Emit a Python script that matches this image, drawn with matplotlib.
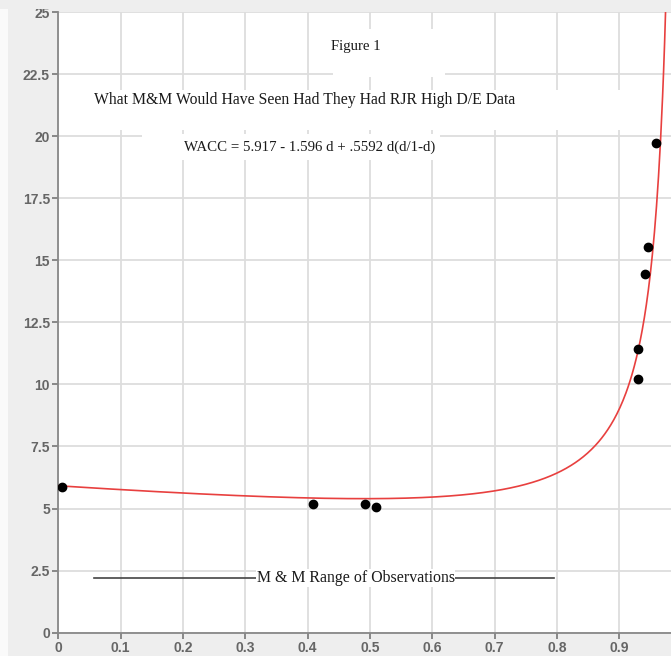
import numpy as np
import matplotlib
matplotlib.use("Agg")
import matplotlib.pyplot as plt
from matplotlib.patches import Rectangle

# observed debt ratio d and WACC (%)
d_obs = [0.006, 0.409, 0.492, 0.510, 0.930, 0.930, 0.942, 0.946, 0.959]
wacc_obs = [5.87, 5.18, 5.18, 5.06, 10.23, 11.44, 14.45, 15.52, 19.73]

# fitted coefficients: WACC = a - b d + c d(d/1-d)
a_coef = 5.917
b_coef = 1.596
c_coef = 0.5592

x_ticks = [0, 0.1, 0.2, 0.3, 0.4, 0.5, 0.6, 0.7, 0.8, 0.9]
x_labels = ["0", "0.1", "0.2", "0.3", "0.4", "0.5", "0.6", "0.7", "0.8", "0.9"]
y_ticks = [0, 2.5, 5, 7.5, 10, 12.5, 15, 17.5, 20, 22.5, 25]
y_labels = ["0", "2.5", "5", "7.5", "10", "12.5", "15", "17.5", "20", "22.5", "25"]

range_lo, range_hi, range_y = 0.057, 0.795, 2.2

W, H = 671, 656
fig = plt.figure(figsize=(W / 100, H / 100), dpi=100)
fig.patch.set_facecolor("#eeeeee")
# thin white strip on the far left
fig.add_artist(Rectangle((0, 0), 8 / W, 1, transform=fig.transFigure,
                         facecolor="#fafafa", edgecolor="none", zorder=0))

ax = fig.add_axes([58.3 / W, (H - 632.7) / H, 1 - 58.3 / W, (632.7 - 12) / H])
ax.set_facecolor("white")
ax.set_xlim(0, (W - 58.3) / 623.3)
ax.set_ylim(0, 25)

ax.set_xticks(x_ticks)
ax.set_xticklabels(x_labels)
ax.set_yticks(y_ticks)
ax.set_yticklabels(y_labels)
for lab in ax.get_xticklabels() + ax.get_yticklabels():
    lab.set_family("Liberation Sans")
    lab.set_fontsize(10)
    lab.set_color("#666666")
    lab.set_fontweight("bold")
ax.tick_params(axis="both", direction="out", length=4, width=1.2, color="#777777", pad=2)

ax.grid(True, color="#dddddd", linewidth=1.3)
ax.set_axisbelow(True)
for side in ["top", "right"]:
    ax.spines[side].set_visible(False)
for side in ["left", "bottom"]:
    ax.spines[side].set_color("#888888")
    ax.spines[side].set_linewidth(1.3)

# white text boxes that hide the grid behind the captions
for x0, x1, y0, y1 in [(0.441, 0.620, 22.38, 24.3),
                       (0.0, 0.91, 20.24, 21.86),
                       (0.134, 0.612, 19.03, 20.1)]:
    ax.add_patch(Rectangle((x0, y0), x1 - x0, y1 - y0, facecolor="white",
                           edgecolor="none", zorder=1))

# fitted curve
d = np.linspace(0, 0.976, 600)
wacc = a_coef - b_coef * d + c_coef * d * (d / (1 - d))
ax.plot(d, wacc, color="#e8403f", linewidth=1.2, zorder=3)

ax.plot(d_obs, wacc_obs, "o", color="black", markersize=6, zorder=4)

serif = "Liberation Serif"
ink = "#1a1a1a"
ax.text(0.477, 23.6, "Figure 1", family=serif, fontsize=10.6, color=ink,
        ha="center", va="center", zorder=5)
ax.text(0.395, 21.45, "What M&M Would Have Seen Had They Had RJR High D/E Data",
        family=serif, fontsize=11.3, color=ink, ha="center", va="center", zorder=5)
ax.text(0.404, 19.56, "WACC = 5.917 - 1.596 d + .5592 d(d/1-d)", family=serif,
        fontsize=10.7, color=ink, ha="center", va="center", zorder=5)

# M & M observation range
ax.plot([range_lo, range_hi], [range_y, range_y], color="#444444", linewidth=1.2, zorder=4)
ax.text(0.477, range_y, "M & M Range of Observations", family=serif, fontsize=11.4,
        color=ink, ha="center", va="center", zorder=5,
        bbox=dict(facecolor="white", edgecolor="none", pad=0.5))

# grey strip along the top edge
fig.add_artist(Rectangle((0, 1 - 9 / H), 1, 9 / H, transform=fig.transFigure,
                         facecolor="#eeeeee", edgecolor="none", zorder=10))

fig.savefig("out.png", dpi=100, facecolor=fig.get_facecolor())
